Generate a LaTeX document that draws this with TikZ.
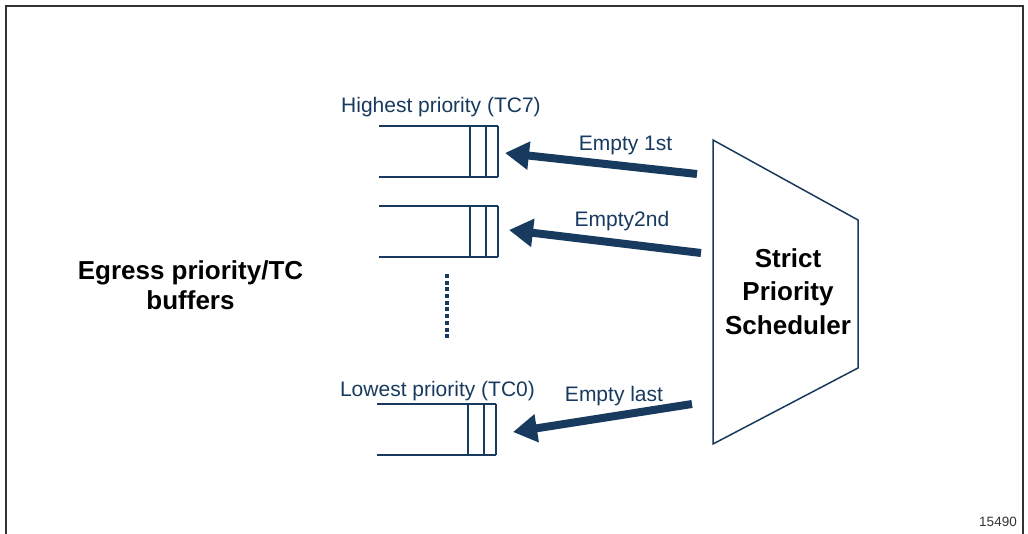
\documentclass[tikz,border=0pt]{standalone}
\usepackage{fontspec}
\setmainfont{Liberation Sans}
\usetikzlibrary{arrows.meta}
\definecolor{navy}{HTML}{173A5E}
\definecolor{frame}{HTML}{333333}
\begin{document}
\begin{tikzpicture}[x=1pt,y=-1pt,
  buf/.style={draw=navy,line width=2pt},
  lab/.style={text=navy,anchor=base,font=\fontsize{21}{25}\selectfont},
  big/.style={align=center,text=black},
  fat/.style={draw=navy,line width=8pt,-{Triangle[length=24pt,width=27pt]}},
  buffer/.pic={
    \draw[buf] (0,0) -- (119,0) (0,51) -- (119,51)
               (91,0) -- (91,51) (106.5,0) -- (106.5,51) (119,0) -- (119,51);
    \coordinate (-in) at (119,25.5);
  }]
\useasboundingbox (0,0) rectangle (1028,534);
% frame (open at the bottom)
\draw[draw=frame,line width=1.5pt] (6,534) -- (6,6) -- (1023,6) -- (1023,534);

% buffers
\pic (q7) at (379,126) {buffer};
\pic (q6) at (379,206) {buffer};
\pic (q0) at (377,404) {buffer};

\node[lab] (l7) at (441,113) {Highest priority (TC7)};
\node[lab] (l0) at (437.5,397) {Lowest priority (TC0)};

% dotted continuation
\coordinate (d1) at (447,274);
\coordinate (d2) at (447,338.5);
\draw[draw=navy,line width=4pt,dash pattern=on 4pt off 2.7pt] (d1) -- (d2);

% scheduler
\draw[draw=navy,line width=1.5pt] (713,140) coordinate (s1) -- (858,220) -- (858,368) -- (713,444) coordinate (s2) -- cycle;
\node[big,font=\fontsize{26}{33.5}\selectfont\bfseries] (sch) at (788,291.5) {Strict\\Priority\\Scheduler};

\node[big,font=\fontsize{26}{30}\selectfont\bfseries] (eg) at (190.5,285) {Egress priority/TC\\buffers};

% arrows
\coordinate (t1) at (697,174);
\coordinate (h1) at (505,153);
\coordinate (t2) at (701,253);
\coordinate (h2) at (509,230);
\coordinate (t3) at (692,404);
\coordinate (h3) at (513,432);
\draw[fat] (t1) -- (h1);
\draw[fat] (t2) -- (h2);
\draw[fat] (t3) -- (h3);

\node[lab] (e1) at (625.5,151) {Empty 1st};
\node[lab] (e2) at (622,227) {Empty2nd};
\node[lab] (e3) at (614,402) {Empty last};

\node[anchor=base,text=frame,font=\fontsize{13.5}{16}\selectfont] (id) at (998,526.5) {15490};
\end{tikzpicture}
\end{document}
